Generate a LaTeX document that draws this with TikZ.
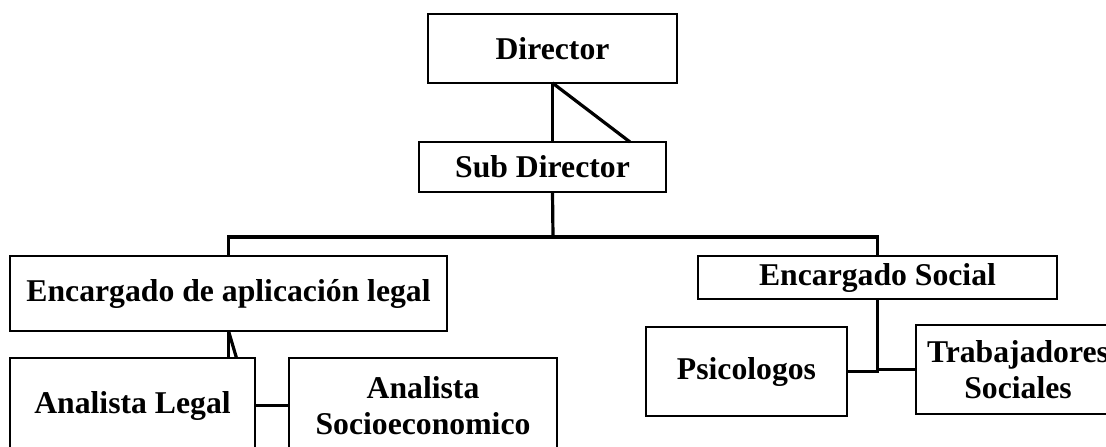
\documentclass[tikz,border=0pt]{standalone}
\usepackage{fontspec}
\setmainfont{Liberation Serif}
\begin{document}
\begin{tikzpicture}[x=1pt,y=-1pt,
  box/.style={draw=black,line width=2.6pt,fill=white,inner sep=0pt,outer sep=0pt,
    align=center,font=\fontsize{31.7}{35.5}\selectfont\bfseries},
  conn/.style={draw=black,line width=3.2pt}]
\useasboundingbox (0,0) rectangle (1106,447);
\clip (0,0) rectangle (1106,447);
% connectors first (boxes drawn on top)
\node[box,minimum width=249pt,minimum height=69pt] (dir) at (552.5,48.5) {Director};
\node[box,minimum width=247pt,minimum height=50pt] (sub) at (542.5,167) {Sub Director};
\node[box,minimum width=437pt,minimum height=75pt] (legal) at (228.5,293.5) {Encargado de aplicación legal};
\node[box,minimum width=359pt,minimum height=43pt] (social) at (877.5,277.5) {Encargado Social};
\node[box,minimum width=201pt,minimum height=89pt] (psic) at (746.5,371.5) {Psicologos};
\node[box,minimum width=204pt,minimum height=89pt] (trab) at (1018,369.5) {Trabajadores\\Sociales};
\node[box,minimum width=245pt,minimum height=95pt] (al) at (132.5,405.5) {Analista Legal};
\node[box,minimum width=268pt,minimum height=95pt] (as) at (423,405.5) {Analista\\Socioeconomico};
\coordinate (bus) at (553,237);
% Director to Sub Director
\draw[conn] (dir.south) -- (dir.south |- sub.north);
\draw[conn] (dir.south) -- ([xshift=87.5pt]sub.north);
% Sub Director to bus
\draw[conn] (dir.south |- sub.south) -- (bus);
\draw[conn] (legal.north) |- (bus) -| (social.north);
% Legal branch
\draw[conn] (legal.south) -- (legal.south |- al.north);
\draw[conn] (legal.south) -- ([xshift=8pt]legal.south |- al.north);
\draw[conn] (al.east) -- (as.west);
% Social branch
\draw[conn] (social.south) -- (social.south |- psic.east) -- (psic.east);
\draw[conn] (social.south |- trab.west) -- (trab.west);
\end{tikzpicture}
\end{document}
